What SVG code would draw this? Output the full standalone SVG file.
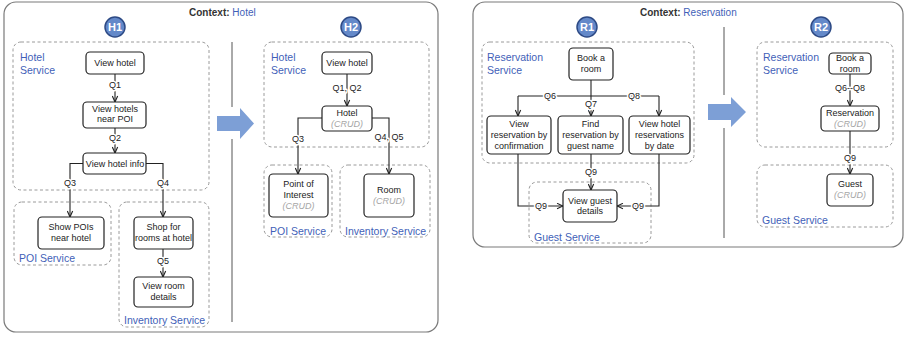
<svg xmlns="http://www.w3.org/2000/svg" width="906" height="337" viewBox="0 0 906 337">
<style>
text{font-family:"Liberation Sans",Arial,sans-serif;}
.panel{fill:#fff;stroke:#7a7a7a;stroke-width:1.2;}
.ctx{font-size:10px;font-weight:bold;fill:#333;}
.ctxv{font-weight:normal;fill:#3f5fb8;}
.badge circle{fill:#6489c9;stroke:#2d4a85;stroke-width:1.5;}
.badge text{font-size:11px;font-weight:bold;fill:#fff;text-anchor:middle;}
.svc{fill:none;stroke:#9a9a9a;stroke-width:1;stroke-dasharray:3,2.5;}
.svl{font-size:10.5px;fill:#3f5fb8;}
.node rect{fill:#fff;stroke:#222;stroke-width:1.2;}
.node text{font-size:9px;fill:#222;text-anchor:middle;}
.node text.crud{fill:#a6a6a6;font-style:italic;}
.edge{fill:none;stroke:#222;stroke-width:1.1;}
.arr{marker-end:url(#open);}
.q{font-size:9px;fill:#222;text-anchor:middle;paint-order:stroke;stroke:#fff;stroke-width:3px;stroke-linejoin:round;}
.div{stroke:#555;stroke-width:1;}
.big{fill:#7d9fd6;}
</style>
<defs>
<marker id="open" viewBox="0 0 10 10" refX="9.5" refY="5" markerWidth="7" markerHeight="7" markerUnits="userSpaceOnUse" orient="auto">
<path d="M1,1.2 L9.5,5 L1,8.8" fill="none" stroke="#222" stroke-width="1.6"/>
</marker>
</defs>

<!-- Left context panel -->
<g id="panel-hotel">
<rect class="panel" x="4" y="2" width="434" height="330" rx="12"/>
<text class="ctx" x="189" y="16">Context: <tspan class="ctxv">Hotel</tspan></text>
<line class="div" x1="232" y1="42" x2="232" y2="107"/>
<line class="div" x1="232" y1="139" x2="232" y2="322"/>
<polygon class="big" points="217,116 240,116 240,108 254,123.5 240,139 240,131 217,131"/>
</g>

<g id="H1" class="badge"><circle cx="115" cy="27" r="10"/><text x="115" y="31">H1</text></g>
<g id="H2" class="badge"><circle cx="351" cy="27" r="10"/><text x="351" y="31">H2</text></g>

<!-- H1 services -->
<g id="h1-hotel-service"><rect class="svc" x="13" y="42" width="196" height="148" rx="8"/>
<text class="svl" x="20" y="61">Hotel</text><text class="svl" x="20" y="74">Service</text></g>
<g id="h1-poi-service"><rect class="svc" x="14" y="202" width="97" height="63" rx="8"/>
<text class="svl" x="19" y="262">POI Service</text></g>
<g id="h1-inventory-service"><rect class="svc" x="119" y="202" width="90" height="125" rx="8"/>
<text class="svl" x="124" y="324">Inventory Service</text></g>

<!-- H2 services -->
<g id="h2-hotel-service"><rect class="svc" x="264" y="42" width="165" height="105" rx="8"/>
<text class="svl" x="271" y="61">Hotel</text><text class="svl" x="271" y="74">Service</text></g>
<g id="h2-poi-service"><rect class="svc" x="264" y="165" width="68" height="72" rx="8"/>
<text class="svl" x="270" y="235">POI Service</text></g>
<g id="h2-inventory-service"><rect class="svc" x="340" y="165" width="90" height="72" rx="8"/>
<text class="svl" x="345" y="235">Inventory Service</text></g>

<!-- Right context panel -->
<g id="panel-reservation">
<rect class="panel" x="473" y="2" width="430" height="245" rx="12"/>
<text class="ctx" x="640" y="16">Context: <tspan class="ctxv">Reservation</tspan></text>
<line class="div" x1="724" y1="27" x2="724" y2="95"/>
<line class="div" x1="724" y1="128" x2="724" y2="238"/>
<polygon class="big" points="708,104 731,104 731,97 746,112 731,127 731,120 708,120"/>
</g>

<g id="R1" class="badge"><circle cx="587" cy="27" r="10"/><text x="587" y="31">R1</text></g>
<g id="R2" class="badge"><circle cx="821" cy="27" r="10"/><text x="821" y="31">R2</text></g>

<g id="r1-reservation-service"><rect class="svc" x="482" y="42" width="212" height="121" rx="8"/>
<text class="svl" x="487" y="61">Reservation</text><text class="svl" x="487" y="74">Service</text></g>
<g id="r1-guest-service"><rect class="svc" x="529" y="182" width="122" height="61" rx="8"/>
<text class="svl" x="534" y="241">Guest Service</text></g>
<g id="r2-reservation-service"><rect class="svc" x="757" y="42" width="136" height="105" rx="8"/>
<text class="svl" x="763" y="61">Reservation</text><text class="svl" x="763" y="74">Service</text></g>
<g id="r2-guest-service"><rect class="svc" x="757" y="165" width="136" height="62" rx="8"/>
<text class="svl" x="762" y="224">Guest Service</text></g>

<!-- Connectors -->
<g id="connectors">
<path class="edge arr" d="M115,74 V102"/>
<path class="edge arr" d="M115,128 V153"/>
<path class="edge arr" d="M83,163.5 H70 V217"/>
<path class="edge arr" d="M146,163.5 H163 V217"/>
<path class="edge arr" d="M163,249 V277"/>
<path class="edge arr" d="M347,74 V106"/>
<path class="edge arr" d="M322,118 H298 V174"/>
<path class="edge arr" d="M372,118 H389 V174"/>
<path class="edge arr" d="M591,80 V116"/>
<path class="edge" d="M518,96 H659"/>
<path class="edge arr" d="M518,96 V116"/>
<path class="edge arr" d="M659,96 V116"/>
<path class="edge arr" d="M518,154 V206 H563"/>
<path class="edge arr" d="M591,154 V190"/>
<path class="edge arr" d="M659,154 V206 H617"/>
<path class="edge arr" d="M850,74 V106"/>
<path class="edge arr" d="M850,131 V174"/>
<text class="q" x="115" y="88">Q1</text>
<text class="q" x="115" y="141">Q2</text>
<text class="q" x="70" y="186">Q3</text>
<text class="q" x="163" y="186">Q4</text>
<text class="q" x="163" y="264">Q5</text>
<text class="q" x="347" y="91">Q1, Q2</text>
<text class="q" x="298" y="142">Q3</text>
<text class="q" x="389" y="140">Q4, Q5</text>
<text class="q" x="550" y="99">Q6</text>
<text class="q" x="591" y="107">Q7</text>
<text class="q" x="634" y="99">Q8</text>
<text class="q" x="541" y="209">Q9</text>
<text class="q" x="591" y="175">Q9</text>
<text class="q" x="638" y="209">Q9</text>
<text class="q" x="850" y="91">Q6--Q8</text>
<text class="q" x="850" y="161">Q9</text>
</g>

<!-- H1 nodes -->
<g id="h1-view-hotel" class="node"><rect x="86" y="52" width="58" height="22" rx="4"/><text x="115" y="66">View hotel</text></g>
<g id="h1-view-hotels-near-poi" class="node"><rect x="83" y="102" width="63" height="26" rx="4"/><text x="115" y="112">View hotels</text><text x="115" y="122">near POI</text></g>
<g id="h1-view-hotel-info" class="node"><rect x="83" y="153" width="63" height="21" rx="4"/><text x="115" y="167">View hotel info</text></g>
<g id="h1-show-pois" class="node"><rect x="38" y="217" width="66" height="32" rx="4"/><text x="71" y="230">Show POIs</text><text x="71" y="241">near hotel</text></g>
<g id="h1-shop-rooms" class="node"><rect x="134" y="217" width="59" height="32" rx="4"/><text x="163.5" y="230">Shop for</text><text x="163.5" y="241">rooms at hotel</text></g>
<g id="h1-view-room-details" class="node"><rect x="134" y="277" width="59" height="30" rx="4"/><text x="163.5" y="289">View room</text><text x="163.5" y="300">details</text></g>

<!-- H2 nodes -->
<g id="h2-view-hotel" class="node"><rect x="322" y="52" width="50" height="22" rx="4"/><text x="347" y="66">View hotel</text></g>
<g id="h2-hotel" class="node"><rect x="322" y="106" width="50" height="25" rx="4"/><text x="347" y="116">Hotel</text><text class="crud" x="347" y="127">(CRUD)</text></g>
<g id="h2-poi" class="node"><rect x="269" y="174" width="59" height="43" rx="4"/><text x="298.5" y="187">Point of</text><text x="298.5" y="198">Interest</text><text class="crud" x="298.5" y="209">(CRUD)</text></g>
<g id="h2-room" class="node"><rect x="364" y="174" width="50" height="43" rx="4"/><text x="389" y="193">Room</text><text class="crud" x="389" y="204">(CRUD)</text></g>

<!-- R1 nodes -->
<g id="r1-book-room" class="node"><rect x="569" y="48" width="44" height="32" rx="4"/><text x="591" y="61">Book a</text><text x="591" y="72">room</text></g>
<g id="r1-view-by-confirmation" class="node"><rect x="487" y="116" width="64" height="38" rx="4"/><text x="519" y="127">View</text><text x="519" y="138">reservation by</text><text x="519" y="149">confirmation</text></g>
<g id="r1-find-by-guest" class="node"><rect x="558" y="116" width="65" height="38" rx="4"/><text x="590.5" y="127">Find</text><text x="590.5" y="138">reservation by</text><text x="590.5" y="149">guest name</text></g>
<g id="r1-view-by-date" class="node"><rect x="629" y="116" width="61" height="38" rx="4"/><text x="659.5" y="127">View hotel</text><text x="659.5" y="138">reservations</text><text x="659.5" y="149">by date</text></g>
<g id="r1-view-guest" class="node"><rect x="563" y="190" width="54" height="32" rx="4"/><text x="590" y="204">View guest</text><text x="590" y="214">details</text></g>

<!-- R2 nodes -->
<g id="r2-book-room" class="node"><rect x="829" y="53" width="42" height="21" rx="4"/><text x="850" y="61">Book a</text><text x="850" y="72">room</text></g>
<g id="r2-reservation" class="node"><rect x="821" y="106" width="58" height="25" rx="4"/><text x="850" y="116">Reservation</text><text class="crud" x="850" y="127">(CRUD)</text></g>
<g id="r2-guest" class="node"><rect x="827" y="174" width="46" height="32" rx="4"/><text x="850" y="187">Guest</text><text class="crud" x="850" y="198">(CRUD)</text></g>
</svg>
